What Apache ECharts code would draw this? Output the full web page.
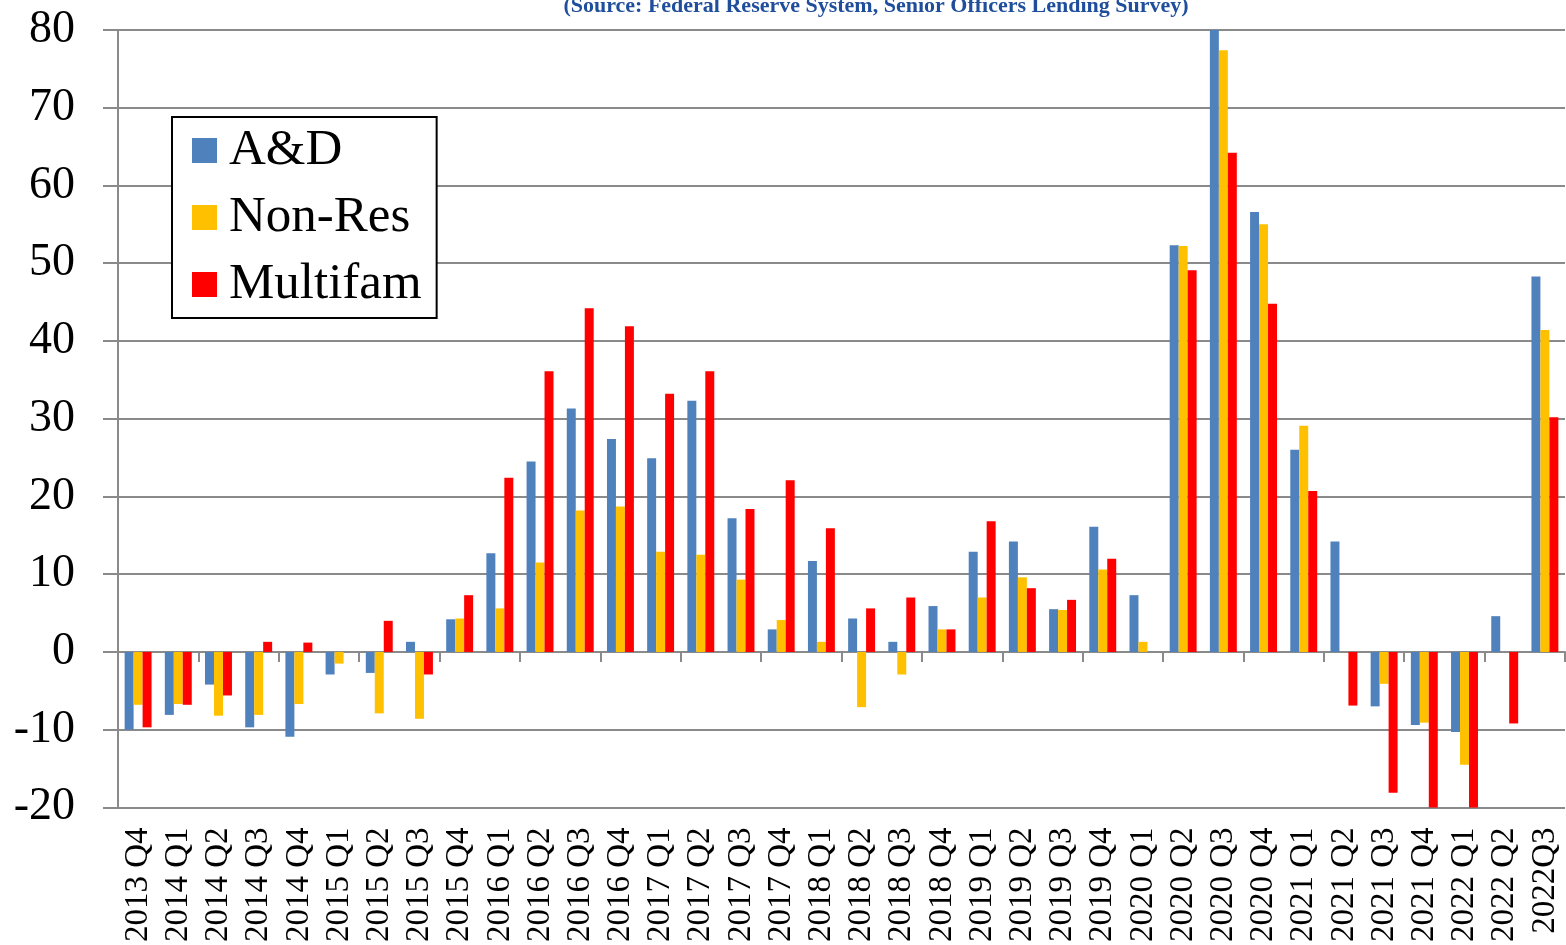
<!DOCTYPE html>
<html>
<head>
<meta charset="utf-8">
<script src="https://cdn.jsdelivr.net/npm/echarts@6/dist/echarts.min.js"></script>
<style>
html,body{margin:0;padding:0;background:#fff;}
#chart{width:1566px;height:945px;}
</style>
</head>
<body>
<div id="chart"></div>
<script>
var categories = ['2013 Q4','2014 Q1','2014 Q2','2014 Q3','2014 Q4','2015 Q1','2015 Q2','2015 Q3','2015 Q4',
  '2016 Q1','2016 Q2','2016 Q3','2016 Q4','2017 Q1','2017 Q2','2017 Q3','2017 Q4',
  '2018 Q1','2018 Q2','2018 Q3','2018 Q4','2019 Q1','2019 Q2','2019 Q3','2019 Q4',
  '2020 Q1','2020 Q2','2020 Q3','2020 Q4','2021 Q1','2021 Q2','2021 Q3','2021 Q4',
  '2022 Q1','2022 Q2','2022Q3'];
var adValues = [-10.0,-8.1,-4.2,-9.7,-10.9,-2.9,-2.7,1.3,4.2,
  12.7,24.5,31.3,27.4,24.9,32.3,17.2,2.9,
  11.7,4.3,1.3,5.9,12.9,14.2,5.5,16.1,
  7.3,52.3,80,56.6,26.0,14.2,-7.0,-9.4,
  -10.3,4.6,48.3];
var nonResValues = [-6.8,-6.7,-8.2,-8.1,-6.7,-1.5,-7.9,-8.6,4.3,
  5.6,11.5,18.2,18.7,12.9,12.5,9.3,4.1,
  1.3,-7.1,-2.9,2.9,7.0,9.6,5.4,10.6,
  1.3,52.2,77.4,55.0,29.1,0,-4.1,-9.1,
  -14.5,0,41.4];
var multifamValues = [-9.7,-6.8,-5.6,1.3,1.2,0,4.0,-2.9,7.3,
  22.4,36.1,44.2,41.9,33.2,36.1,18.4,22.1,
  15.9,5.6,7.0,2.9,16.8,8.2,6.7,12.0,
  0,49.1,64.2,44.8,20.7,-6.9,-18.1,-20,
  -20,-9.2,30.2];
var seriesNames = ['A&D','Non-Res','Multifam'];
var titleText = '(Source: Federal Reserve System, Senior Officers Lending Survey)';

var FONT = 'Liberation Serif';
var GRAY = '#8a8a8a';
var chart = echarts.init(document.getElementById('chart'));
chart.setOption({
  animation: false,
  backgroundColor: '#fff',
  title: {
    text: titleText,
    left: 871,
    top: -10,
    textAlign: 'center',
    textStyle: {fontFamily: FONT, fontWeight: 'bold', fontSize: 22, color: '#1F4E9C'}
  },
  legend: {
    orient: 'vertical',
    left: 172,
    top: 117,
    padding: [8, 15, 8, 20],
    itemGap: 16,
    itemWidth: 25,
    itemHeight: 25,
    icon: 'rect',
    backgroundColor: '#fff',
    borderColor: '#000',
    borderWidth: 2,
    textStyle: {fontFamily: FONT, fontSize: 51, color: '#000', padding: [0, 0, 0, 7]},
    data: seriesNames
  },
  grid: {left: 118, right: 1, top: 30, bottom: 136, containLabel: false},
  xAxis: [{
    type: 'category',
    data: categories,
    axisLine: {onZero: true, lineStyle: {color: GRAY, width: 2}},
    axisTick: {show: true, length: 10, lineStyle: {color: GRAY, width: 2}},
    axisLabel: {show: false},
    splitLine: {show: false}
  }, {
    type: 'category',
    data: categories,
    position: 'bottom',
    axisLine: {show: false, onZero: false},
    axisTick: {show: false},
    axisLabel: {show: true, interval: 0, rotate: 90, margin: 20,
      fontFamily: FONT, fontSize: 33, color: '#000'},
    splitLine: {show: false}
  }],
  yAxis: {
    type: 'value',
    min: -20,
    max: 80,
    interval: 10,
    axisLine: {show: true, lineStyle: {color: GRAY, width: 2}},
    axisTick: {show: true, length: 15, lineStyle: {color: GRAY, width: 2}},
    axisLabel: {margin: 43, fontFamily: FONT, fontSize: 46, color: '#000'},
    splitLine: {show: true, lineStyle: {color: GRAY, width: 2}}
  },
  series: [{
    name: seriesNames[0], type: 'bar', data: adValues,
    itemStyle: {color: '#4F81BD'}, barGap: '0%', barCategoryGap: '33%'
  }, {
    name: seriesNames[1], type: 'bar', data: nonResValues,
    itemStyle: {color: '#FFC000'}, barGap: '0%', barCategoryGap: '33%'
  }, {
    name: seriesNames[2], type: 'bar', data: multifamValues,
    itemStyle: {color: '#FF0000'}, barGap: '0%', barCategoryGap: '33%'
  }]
});
</script>
</body>
</html>
